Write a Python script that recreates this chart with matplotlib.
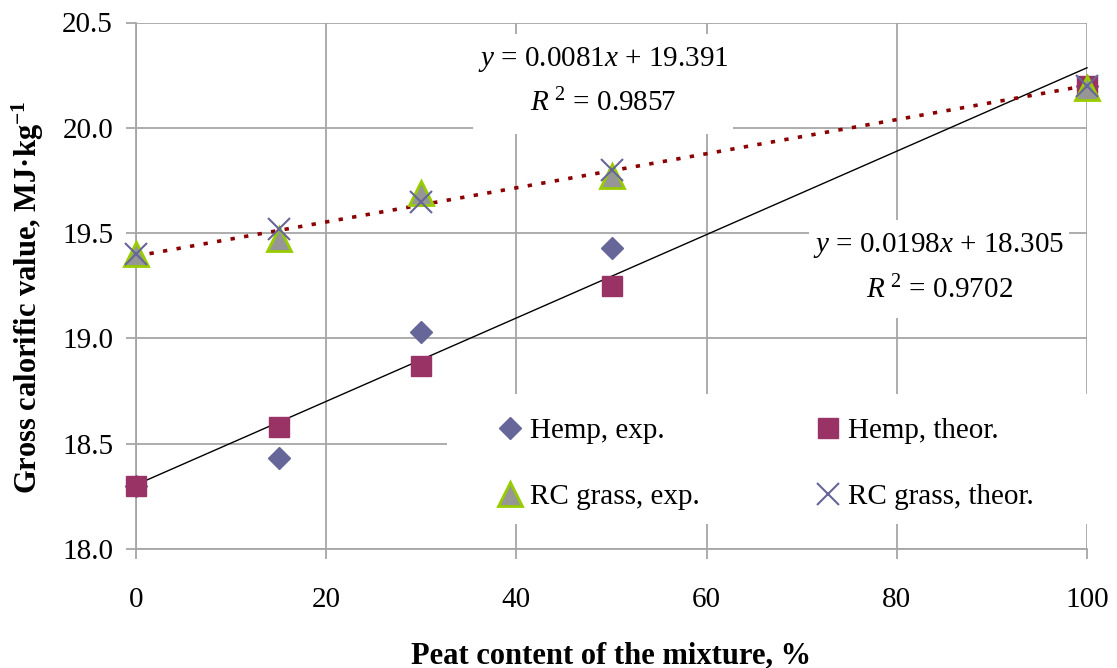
import matplotlib
matplotlib.use("Agg")
import matplotlib.pyplot as plt
from matplotlib.patches import Rectangle
import numpy as np

# ---- data ----
peat = [0, 15, 30, 50, 100]
hemp_exp = [18.30, 18.43, 19.03, 19.43, 20.20]
hemp_theor = [18.30, 18.58, 18.87, 19.25, 20.20]
rc_exp = [19.40, 19.47, 19.69, 19.77, 20.19]
rc_theor = [19.40, 19.52, 19.65, 19.80, 20.20]
labels = ["Hemp, exp.", "Hemp, theor.", "RC grass, exp.", "RC grass, theor."]
trend_rc = (0.0081, 19.391, 0.9857)      # slope, intercept, R2
trend_hemp = (0.0198, 18.305, 0.9702)
x_ticks = [0, 20, 40, 60, 80, 100]
y_ticks = [18.0, 18.5, 19.0, 19.5, 20.0, 20.5]

plt.rcParams['font.family'] = ['Liberation Serif', 'DejaVu Serif']
plt.rcParams['mathtext.fontset'] = 'custom'
plt.rcParams['mathtext.rm'] = 'Liberation Serif'
plt.rcParams['mathtext.it'] = 'Liberation Serif:italic'
plt.rcParams['mathtext.bf'] = 'Liberation Serif:bold'

W, H = 1117, 668
fig = plt.figure(figsize=(W / 100, H / 100), dpi=100)
L, R, T, B = 136, 1087, 22.5, 549
ax = fig.add_axes([L / W, 1 - B / H, (R - L) / W, (B - T) / H])

def ax_xy(px, py):
    return ((px - L) / (R - L), (B - py) / (B - T))

FS = 21
grid_c = '#A6A6A6'
ax.set_xlim(0, 100)
ax.set_ylim(18.0, 20.5)
ax.set_xticks(x_ticks)
ax.set_yticks(y_ticks)
ax.set_yticklabels([f"{v:.1f}" for v in y_ticks])
ax.grid(True, color=grid_c, linewidth=1.3, zorder=0)
ax.set_axisbelow(True)
for s in ['top', 'right']:
    ax.spines[s].set_visible(False)
for s in ['left', 'bottom']:
    ax.spines[s].set_color(grid_c)
    ax.spines[s].set_linewidth(1.3)
ax.tick_params(axis='both', direction='out', length=7.5, width=1.3, color=grid_c,
               labelsize=FS, labelcolor='black')
ax.tick_params(axis='y', pad=9)
ax.tick_params(axis='x', pad=20)

# trend lines
xs = np.array([0, 100])
ax.plot(xs, trend_hemp[0] * xs + trend_hemp[1], color='black', lw=1.0, zorder=3,
        clip_on=False)
ax.plot(xs, trend_rc[0] * xs + trend_rc[1], color='#8B0000', lw=2.6,
        linestyle=(0, (1.2, 2.6)), zorder=3, clip_on=False)

# series
h1, = ax.plot(peat, hemp_exp, linestyle='none', marker='D', markersize=11,
              color='#666699', markeredgecolor='#666699', zorder=4, clip_on=False)
h2, = ax.plot(peat, hemp_theor, linestyle='none', marker='s', markersize=14,
              color='#993366', markeredgecolor='#993366', zorder=5, clip_on=False)
h3, = ax.plot(peat, rc_exp, linestyle='none', marker='^', markersize=17,
              markerfacecolor='#969696', markeredgecolor='#99CC00',
              markeredgewidth=2.0, zorder=6, clip_on=False)
h4, = ax.plot(peat, rc_theor, linestyle='none', marker='x', markersize=16,
              color='#666699', markeredgewidth=1.5, zorder=7, clip_on=False)

# white boxes behind equations and legend
def white_box(x0, y0, x1, y1):
    ax0, ay1 = ax_xy(x0, y0)
    ax1, ay0 = ax_xy(x1, y1)
    ax.add_patch(Rectangle((ax0, ay0), ax1 - ax0, ay1 - ay0, transform=ax.transAxes,
                           facecolor='white', edgecolor='none', zorder=1,
                           clip_on=False))

white_box(473, 34, 733, 134)
white_box(809, 220, 1069, 318)
white_box(447, 394, 1090, 524)

def eq_text(cx, y1, y2, tr):
    ax.text(*ax_xy(cx, y1), rf"$y$ = {tr[0]}$x$ + {tr[1]}", transform=ax.transAxes,
            ha='center', va='center', fontsize=FS, zorder=8)
    ax.text(*ax_xy(cx, y2), rf"$R^{{\ 2}}$ = {tr[2]}", transform=ax.transAxes,
            ha='center', va='center', fontsize=FS, zorder=8)

eq_text(603, 60, 103, trend_rc)
eq_text(939, 245, 290, trend_hemp)

leg = ax.legend([h1, h3, h2, h4], [labels[0], labels[2], labels[1], labels[3]],
                ncol=2, frameon=False, fontsize=FS,
                loc='upper left', bbox_to_anchor=ax_xy(497, 418),
                handlelength=0.9, handletextpad=0.24, columnspacing=3.95,
                labelspacing=1.36, borderpad=0, borderaxespad=0)
leg.set_zorder(9)

ax.set_xlabel("Peat content of the mixture, %", fontsize=22, fontweight='bold')
ax.xaxis.set_label_coords(0.5, (B - 641) / (B - T))
ax.set_ylabel(r"Gross calorific value, MJ·kg$^{\mathbf{-1}}$", fontsize=22,
              fontweight='bold')
ax.yaxis.set_label_coords((46 - L) / (R - L), (B - 297) / (B - T))

fig.savefig("out.png", dpi=100)
